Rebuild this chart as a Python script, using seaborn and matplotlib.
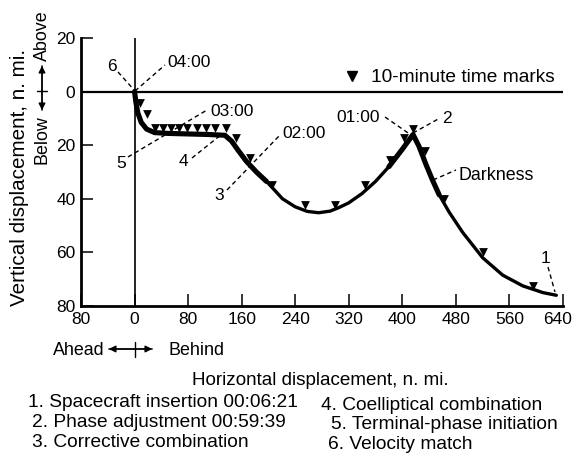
import matplotlib
matplotlib.use("Agg")
import matplotlib.pyplot as plt
import matplotlib.transforms as mtransforms
from matplotlib import font_manager as fm
from matplotlib.lines import Line2D
from matplotlib.patches import FancyArrowPatch
import seaborn as sns
import pandas as pd

# ---------------- data ----------------
path_x = [0, 2, 5, 10, 18, 30, 50, 80, 110, 135, 145, 155, 167, 182, 197, 210, 221,
          240, 258, 275, 292, 305, 320, 340, 360, 380, 400, 416, 425, 435, 445, 455,
          470, 490, 520, 550, 580, 610, 630]
path_y = [0, 4, 8, 11.5, 14, 15.3, 15.6, 15.8, 16, 16.3, 18.5, 22, 26, 30, 33.5, 37, 40,
          43, 44.7, 45.2, 44.6, 43.3, 41.5, 38, 33.5, 28, 21.5, 16, 20.5, 27, 33, 38.5,
          45, 52.5, 62, 68.5, 72.5, 75, 76]
heavy_spans = [(0, 200), (380, 458)]

mark_x = [7.5, 18, 30, 42, 55, 67, 79, 93, 106, 120, 136, 152, 173, 206, 254, 299,
          344, 381, 402, 416, 434, 462, 521, 595]
mark_y = [4.1, 8.2, 13.5, 13.5, 13.5, 13.5, 13.5, 13.5, 13.5, 13.5, 13.5, 17.3, 24.8,
          35, 42.2, 42.2, 35, 25.6, 17.3, 13.8, 22.2, 40.2, 60, 72.5]

x_ticks = [-80, 0, 80, 160, 240, 320, 400, 480, 560, 640]
x_tick_labels = ["80", "0", "80", "160", "240", "320", "400", "480", "560", "640"]
y_ticks = [-20, 0, 20, 40, 60, 80]
y_tick_labels = ["20", "0", "20", "40", "60", "80"]

events_left = ["1. Spacecraft insertion 00:06:21", "2. Phase adjustment 00:59:39",
               "3. Corrective combination"]
events_right = ["4. Coelliptical combination", "5. Terminal-phase initiation",
                "6. Velocity match"]
time_labels = ["04:00", "03:00", "02:00", "01:00"]
event_numbers = ["6", "5", "4", "3", "2", "1"]
legend_label = "10-minute time marks"
x_title = "Horizontal displacement, n. mi."
y_title = "Vertical displacement, n. mi."

# ---------------- style ----------------
names = {f.name for f in fm.fontManager.ttflist}
FONT = "Liberation Sans" if "Liberation Sans" in names else "DejaVu Sans"

sns.set_theme(style="ticks")
plt.rcParams["font.family"] = [FONT, "DejaVu Sans"]
plt.rcParams["text.color"] = "black"

W, H = 576, 467
fig = plt.figure(figsize=(W / 100, H / 100), dpi=100)
fig.patch.set_facecolor("white")
ax = fig.add_axes([81 / W, 1 - 306 / H, (563 - 81) / W, (306 - 38) / H])
ax.set_facecolor("white")

# pixel transform (reference pixel coords, origin top-left)
PX = mtransforms.Affine2D().scale(1 / W, -1 / H).translate(0, 1) + fig.transFigure
renderer = fig.canvas.get_renderer()


def fit_group(items, vertical=False):
    """items: list of (text, target_px); one common size for the whole group."""
    ratios = []
    for t, target in items:
        bb = t.get_window_extent(renderer=renderer)
        w = bb.height if vertical else bb.width
        ratios.append(target / w)
    r = sum(ratios) / len(ratios)
    for t, _ in items:
        t.set_fontsize(t.get_fontsize() * r)
    return items[0][0].get_fontsize()


def txt(x, y, s, size=12, **kw):
    kw.setdefault("ha", "left")
    kw.setdefault("va", "baseline")
    return fig.text(x, y, s, transform=PX, fontsize=size, **kw)


# ---------------- chart ----------------
df = pd.DataFrame({"x": path_x, "y": path_y})
sns.lineplot(data=df, x="x", y="y", sort=False, estimator=None, color="black",
             lw=2.4, ax=ax, legend=False, solid_capstyle="round",
             solid_joinstyle="round", zorder=3)
for a, b in heavy_spans:
    sub = df[(df.x >= a) & (df.x <= b)]
    sns.lineplot(data=sub, x="x", y="y", sort=False, estimator=None, color="black",
                 lw=3.7, ax=ax, legend=False, solid_capstyle="round",
                 solid_joinstyle="round", zorder=3)

sns.scatterplot(x=mark_x, y=mark_y, marker="v", s=40, color="black", linewidth=0,
                ax=ax, legend=False, zorder=4)

ax.axhline(0, color="black", lw=1.6, zorder=1)
ax.axvline(0, color="black", lw=1.2, zorder=1)

ax.set_xlim(-80, 640)
ax.set_ylim(80, -20)
ax.set_xticks(x_ticks)
ax.set_xticklabels(x_tick_labels)
ax.set_yticks(y_ticks)
ax.set_yticklabels(y_tick_labels)
ax.set_xlabel("")
ax.set_ylabel("")
for s in ["top", "right"]:
    ax.spines[s].set_visible(False)
for s in ["left", "bottom"]:
    ax.spines[s].set_linewidth(2.0)
    ax.spines[s].set_color("black")
ax.tick_params(direction="in", length=8.5, width=1.1, colors="black", labelsize=12)
ax.tick_params(axis="x", pad=4)
ax.tick_params(axis="y", pad=4)

fig.canvas.draw()
lab = ax.get_xticklabels()[4]
tick_size = 12 * 29 / lab.get_window_extent(renderer=renderer).width
ax.tick_params(labelsize=tick_size)
fig.canvas.draw()
# keep the last x tick label ("640") inside the figure, as in the reference
last = ax.xaxis.get_major_ticks()[-1].label1
last.set_transform(last.get_transform()
                   + mtransforms.ScaledTranslation(-5 / 100, 0, fig.dpi_scale_trans))

# ---------------- leaders and labels ----------------
dash = (0, (3.2, 2.4))
leaders_px = [((118, 72), (135, 91)), ((135, 91), (165, 65)),
              ((128, 157), (207, 110)), ((192, 158), (222, 134)),
              ((227, 190), (280, 135)), ((385, 117), (411, 135)),
              ((413, 133), (440, 118)), ((433, 180), (456, 170)),
              ((548, 267), (555, 292))]
for (x0, y0), (x1, y1) in leaders_px:
    fig.add_artist(Line2D([x0, x1], [y0, y1], transform=PX, color="black",
                          lw=1.0, ls=dash))

tpos = [(167, 67, "left", 43), (210, 116, "left", 45), (282, 138, "left", 43),
        (380, 122, "right", 42)]
small = fit_group([(txt(x, y, lbl, ha=ha), w)
                   for lbl, (x, y, ha, w) in zip(time_labels, tpos)])
npos = [(112, 71), (121, 168), (183, 166), (219, 200), (447, 123), (546, 263)]
for lbl, (x, y) in zip(event_numbers, npos):
    txt(x, y, lbl, size=small, ha="center")

mid = fit_group([(txt(459, 180, "Darkness"), 78),
                 (txt(53, 355, "Ahead"), 48),
                 (txt(168, 355, "Behind"), 58)])

# legend
fig.add_artist(Line2D([352], [76], transform=PX, marker="v", ms=7.5, color="black", ls="none"))
fit_group([(txt(371, 82, legend_label), 184)])

# y title block
fit_group([(txt(20, 178, y_title, ha="center", va="center", rotation=90,
                rotation_mode="anchor"), 257)], vertical=True)
txt(42, 140, "Below", size=mid, ha="center", va="center", rotation=90,
    rotation_mode="anchor")
txt(42, 36, "Above", size=mid, ha="center", va="center", rotation=90,
    rotation_mode="anchor")
arrow_style = "-|>,head_length=0.5,head_width=0.25"
for a, b in [((42, 113), (42, 63)), ((42, 63), (42, 113)),
             ((155, 349), (106, 349)), ((106, 349), (155, 349))]:
    fig.add_artist(FancyArrowPatch(posA=a, posB=b, transform=PX, arrowstyle=arrow_style,
                                   mutation_scale=8, lw=1.0, color="black"))
fig.add_artist(Line2D([37, 47], [91, 91], transform=PX, color="black", lw=1.0))
fig.add_artist(Line2D([135, 135], [342, 357], transform=PX, color="black", lw=1.0))

fit_group([(txt(192, 385, x_title), 258)])

# event list (one common size)
left_pos = [(28, 407, 268), (32, 427, 245), (32, 447, 213)]
right_pos = [(321, 410, 225), (331, 429, 232), (328, 449, 153)]
fit_group([(txt(x, y, lbl), w)
           for lbl, (x, y, w) in zip(events_left + events_right, left_pos + right_pos)])

fig.savefig("out.png", dpi=100, facecolor="white")
